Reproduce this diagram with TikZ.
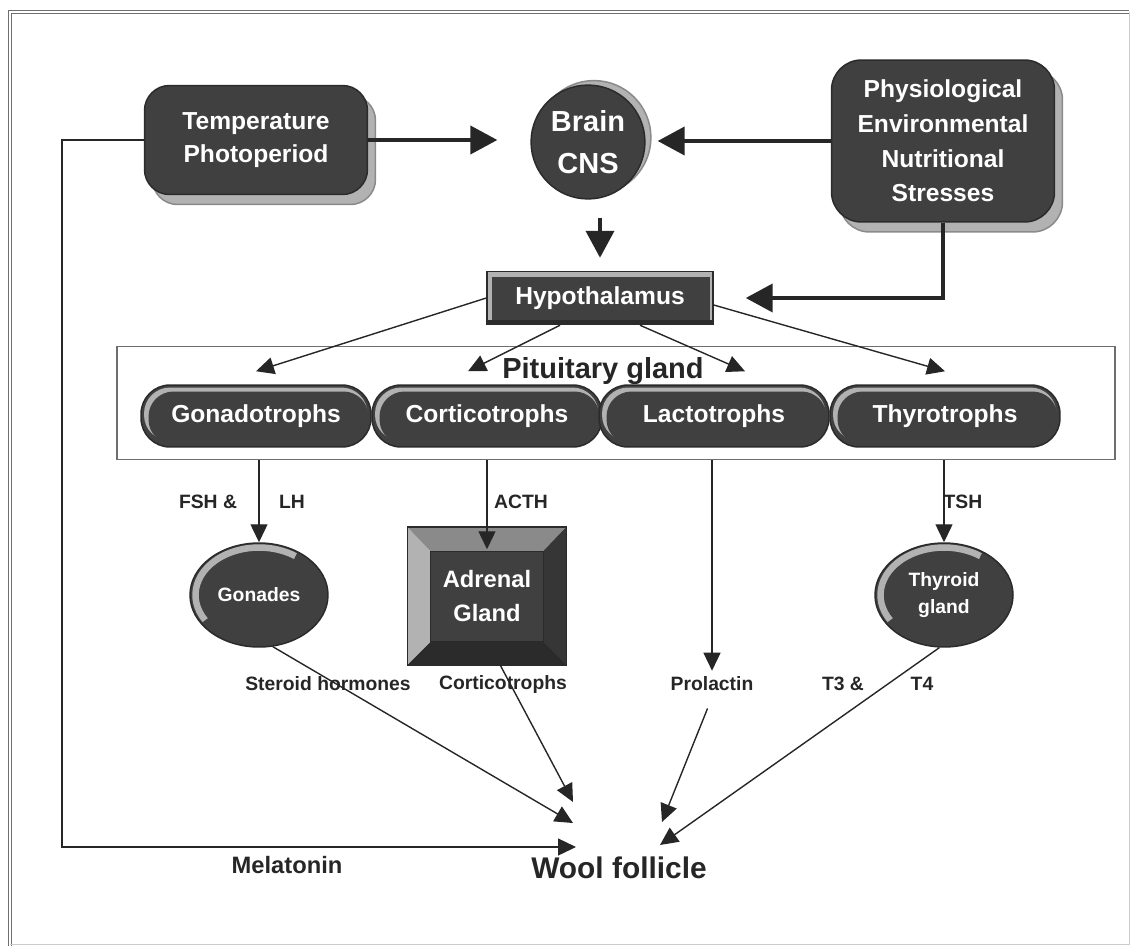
\documentclass[tikz,border=0pt]{standalone}
\usepackage{fontspec}
\setmainfont{Liberation Sans}
\usetikzlibrary{arrows.meta,shapes.geometric,shadows}

\definecolor{cellfill}{HTML}{404040}
\definecolor{rim}{HTML}{B2B2B2}
\definecolor{rimdark}{HTML}{8A8A8A}
\definecolor{edgegray}{HTML}{2B2B2B}
\definecolor{ink}{HTML}{262626}
\definecolor{framegray}{HTML}{6E6E6E}

\begin{document}
\begin{tikzpicture}[x=0.02cm,y=-0.02cm,
    organ/.style={fill=cellfill,draw=edgegray,line width=0.03cm,text=white,align=center,
      font=\bfseries\fontsize{14}{18.7}\selectfont},
    slab/.style={organ,rounded corners=0.5cm,
      copy shadow={shadow xshift=0.16cm,shadow yshift=-0.2cm,fill=rim,draw=rimdark}},
    brainball/.style={organ,circle,minimum size=2cm,font=\bfseries\fontsize{16.5}{23.8}\selectfont,
      copy shadow={shadow xshift=0.12cm,shadow yshift=0.09cm,fill=rim,draw=rimdark}},
    hypo/.style={organ,minimum width=4.52cm,minimum height=1.06cm,font=\bfseries\fontsize{14}{16}\selectfont,
      path picture={
        \fill[rim] (path picture bounding box.south west) rectangle (path picture bounding box.north east);
        \fill[cellfill] ([shift={(0.1cm,0.08cm)}]path picture bounding box.south west)
          rectangle ([shift={(-0.05cm,-0.1cm)}]path picture bounding box.north east);
        \fill[edgegray] (path picture bounding box.south west)
          rectangle ([yshift=0.08cm]path picture bounding box.south east);
      }},
    cell/.style={organ,rounded corners=0.58cm,minimum width=4.6cm,minimum height=1.24cm,
      font=\bfseries\fontsize{14}{16}\selectfont,
      path picture={
        \fill[rim,rounded corners=0.52cm] ([shift={(0.06cm,0.12cm)}]path picture bounding box.south west)
          rectangle ([shift={(-0.07cm,-0.05cm)}]path picture bounding box.north east);
        \fill[cellfill,rounded corners=0.5cm] ([shift={(0.15cm,0.05cm)}]path picture bounding box.south west)
          rectangle ([shift={(-0.05cm,-0.13cm)}]path picture bounding box.north east);
      }},
    bevelbox/.style={organ,minimum width=3.18cm,minimum height=2.76cm,
      font=\bfseries\fontsize{13.5}{19.3}\selectfont,
      path picture={
        \coordinate (bvA) at (path picture bounding box.north west);
        \coordinate (bvB) at (path picture bounding box.north east);
        \coordinate (bvC) at (path picture bounding box.south east);
        \coordinate (bvD) at (path picture bounding box.south west);
        \fill[rimdark] (bvA) -- (bvB) -- ([shift={(-0.46cm,-0.48cm)}]bvB) -- ([shift={(0.46cm,-0.48cm)}]bvA) -- cycle;
        \fill[rim] (bvA) -- ([shift={(0.46cm,-0.48cm)}]bvA) -- ([shift={(0.46cm,0.46cm)}]bvD) -- (bvD) -- cycle;
        \fill[cellfill!85!black] (bvB) -- (bvC) -- ([shift={(-0.46cm,0.46cm)}]bvC) -- ([shift={(-0.46cm,-0.48cm)}]bvB) -- cycle;
        \fill[edgegray] (bvD) -- ([shift={(0.46cm,0.46cm)}]bvD) -- ([shift={(-0.46cm,0.46cm)}]bvC) -- (bvC) -- cycle;
        \draw[edgegray,line width=0.02cm] ([shift={(0.46cm,0.46cm)}]bvD) rectangle ([shift={(-0.46cm,-0.48cm)}]bvB);
      }},
    egg/.style={organ,ellipse,minimum width=2.76cm,minimum height=2.08cm,inner sep=0pt,
      font=\bfseries\fontsize{11}{15.3}\selectfont,
      path picture={
        \draw[rim,line width=0.13cm] ([shift={(212:1.27cm and 0.95cm)}]path picture bounding box.center)
          arc[start angle=212,end angle=55,x radius=1.27cm,y radius=0.95cm];
      }},
    tag/.style={text=ink,font=\bfseries\fontsize{11}{13}\selectfont},
    bigarrow/.style={-{Triangle[length=0.54cm,width=0.56cm]},line width=0.08cm,draw=ink},
    thinarrow/.style={-{Triangle[length=0.36cm,width=0.34cm]},line width=0.028cm,draw=ink}]

  \useasboundingbox (0,0) rectangle (1132,946);
  \draw[framegray,line width=0.02cm,double,double distance=0.05cm] (10,946) -- (10,12) -- (1129,12);
  \draw[gray!40,line width=0.02cm] (1129,12) -- (1129,944) -- (10,944);

  \node[slab,minimum width=4.46cm,minimum height=2.18cm] (temp) at (256,140) {Temperature\\Photoperiod};
  \node[brainball] (brain) at (588,142) {Brain\\CNS};
  \node[slab,rounded corners=0.6cm,minimum width=4.46cm,minimum height=3.24cm,
        font=\bfseries\fontsize{14}{19.7}\selectfont] (phys) at (943,141)
        {Physiological\\Environmental\\Nutritional\\Stresses};
  \node[hypo] (hyp) at (600,298) {Hypothalamus};

  \node[draw=framegray,line width=0.03cm,minimum width=19.96cm,minimum height=2.26cm] (pit) at (616,403) {};
  \node[cell] (gonc) at (256,416) {Gonadotrophs};
  \node[cell] (corc) at (487,416) {Corticotrophs};
  \node[cell] (lacc) at (714,416) {Lactotrophs};
  \node[cell] (thyc) at (945,416) {Thyrotrophs};
  \node[text=ink,font=\bfseries\fontsize{16.5}{18}\selectfont] (pitlbl) at (603,371) {Pituitary gland};

  \node[egg] (gon) at (259,595) {Gonades};
  \node[bevelbox] (adr) at (487,596) {Adrenal\\Gland};
  \node[egg] (thy) at (944,595) {Thyroid\\gland};

  \node[tag] (fsh) at (208,502) {FSH \&};
  \node[tag] (lh) at (292,502) {LH};
  \node[tag] (acth) at (521,502) {ACTH};
  \node[tag] (tsh) at (963,502) {TSH};
  \node[tag] (ster) at (328,684) {Steroid hormones};
  \node[tag] (cort) at (503,684) {Corticotrophs};
  \node[tag] (prl) at (712,684) {Prolactin};
  \node[tag] (t3) at (843,684) {T3 \&};
  \node[tag] (t4) at (922,684) {T4};
  \node[tag,font=\bfseries\fontsize{13.5}{15}\selectfont] (mel) at (287,865) {Melatonin};
  \node[tag,font=\bfseries\fontsize{17}{20}\selectfont] (wool) at (619,868) {Wool follicle};

  \coordinate (inA) at (573,802);
  \coordinate (inG) at (573,823);
  \coordinate (inM) at (576,847);
  \coordinate (inP) at (662,822);
  \coordinate (inT) at (660,845);
  \coordinate (melc) at (62,847);

  \draw[bigarrow,shorten >=0.66cm] (temp.east) -- (temp.east -| brain.west);
  \draw[bigarrow,shorten >=0.24cm] (phys.west) -- (phys.west -| brain.east);
  \draw[bigarrow,shorten <=0.36cm,shorten >=0.26cm] (brain.south -| hyp.north) -- (hyp.north);
  \draw[bigarrow,shorten >=0.64cm] (phys.south) |- (hyp.east);

  \draw[thinarrow] (hyp.west) -- ([yshift=0.26cm]gonc.north);
  \draw[thinarrow] ([xshift=-0.8cm]hyp.south) -- ([xshift=-0.38cm,yshift=0.26cm]corc.north);
  \draw[thinarrow] ([xshift=0.8cm]hyp.south) -- ([xshift=0.62cm,yshift=0.26cm]lacc.north);
  \draw[thinarrow] ([yshift=-0.14cm]hyp.east) -- ([yshift=0.26cm]thyc.north);

  \draw[thinarrow] (pit.south -| gon.north) -- (gon.north);
  \draw[thinarrow] (pit.south -| adr.north) -- ([yshift=-0.46cm]adr.north);
  \draw[thinarrow] (pit.south -| prl.north) -- (prl.north);
  \draw[thinarrow] (pit.south -| thy.north) -- (thy.north);

  \draw[thinarrow] (gon.285) -- (inG);
  \draw[thinarrow] (adr.-79) -- (inA);
  \draw[thinarrow,shorten <=0.24cm] (prl.south) -- (inP);
  \draw[thinarrow] (thy.265) -- (inT);
  \draw[thinarrow] (temp.west) -| (melc) -- (inM);
\end{tikzpicture}
\end{document}
